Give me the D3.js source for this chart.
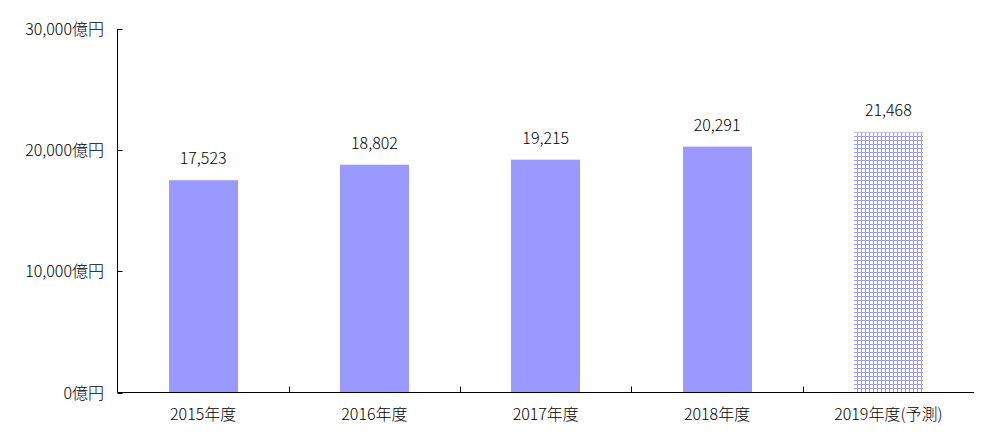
<!DOCTYPE html>
<html><head><meta charset="utf-8">
<script src="https://cdn.jsdelivr.net/npm/d3@7/dist/d3.min.js"></script>
<style>body{margin:0;background:#fff;} text{font-family:"Noto Sans CJK JP","DejaVu Sans",sans-serif;font-weight:300;}</style>
</head><body><svg id="c" width="996" height="441"></svg>
<script>
const categories = ["2015年度","2016年度","2017年度","2018年度","2019年度(予測)"];
const values = [17523, 18802, 19215, 20291, 21468];
const forecast = [false, false, false, false, true];
const yTicks = [0, 10000, 20000, 30000];
const yTickLabels = ["0億円","10,000億円","20,000億円","30,000億円"];

(function(){
const svg = d3.select("#c");
const mLeft = 117.5, mRight = 974, mTop = 29, mBottom = 392.5;
const x = d3.scaleBand().domain(categories).range([mLeft, mRight]).paddingInner(0.6).paddingOuter(0.3);
const xb = d3.scaleBand().domain(categories).range([mLeft, mRight]);
const y = d3.scaleLinear().domain([0, 30000]).range([mBottom, mTop]);

const defs = svg.append("defs");
const pat = defs.append("pattern").attr("id","grid").attr("patternUnits","userSpaceOnUse")
  .attr("width",4).attr("height",4).attr("x",857).attr("y",132);
pat.append("rect").attr("width",4).attr("height",4).attr("fill","#fff");
pat.append("rect").attr("x",0).attr("y",0).attr("width",1).attr("height",4).attr("fill","#9999ff");
pat.append("rect").attr("x",0).attr("y",0).attr("width",4).attr("height",1).attr("fill","#9999ff");

svg.selectAll("rect.bar").data(categories).enter().append("rect")
  .attr("class","bar")
  .attr("x", d => Math.round(x(d)))
  .attr("width", Math.round(x.bandwidth()))
  .attr("y", (d,i) => y(values[i]))
  .attr("height", (d,i) => mBottom - y(values[i]))
  .attr("fill", (d,i) => forecast[i] ? "url(#grid)" : "#9999ff");

svg.selectAll("text.val").data(categories).enter().append("text")
  .attr("x", d => x(d) + x.bandwidth()/2)
  .attr("y", (d,i) => y(values[i]) - 16)
  .attr("text-anchor","middle").attr("font-size",16).attr("fill","#000")
  .text((d,i) => d3.format(",")(values[i]));

const ya = svg.append("g");
ya.append("line").attr("x1",mLeft).attr("x2",mLeft).attr("y1",mTop).attr("y2",mBottom).attr("stroke","#000");
yTicks.forEach((t,i) => {
  ya.append("line").attr("x1",mLeft).attr("x2",mLeft+5).attr("y1",Math.round(y(t))+0.5).attr("y2",Math.round(y(t))+0.5).attr("stroke","#000");
  ya.append("text").attr("x",104).attr("y",y(t)+6).attr("text-anchor","end").attr("font-size",16).attr("fill","#000").text(yTickLabels[i]);
});
const xa = svg.append("g");
xa.append("line").attr("x1",mLeft).attr("x2",mRight).attr("y1",mBottom).attr("y2",mBottom).attr("stroke","#000");
categories.slice(1).forEach(c => {
  const px = Math.round(xb(c)) + 0.5;
  xa.append("line").attr("x1",px).attr("x2",px).attr("y1",mBottom).attr("y2",mBottom-6).attr("stroke","#000");
});
categories.forEach(c => {
  xa.append("text").attr("x", xb(c) + xb.bandwidth()/2).attr("y", 420).attr("text-anchor","middle")
    .attr("font-size",16).attr("fill","#000").text(c);
});
})();
</script></body></html>
